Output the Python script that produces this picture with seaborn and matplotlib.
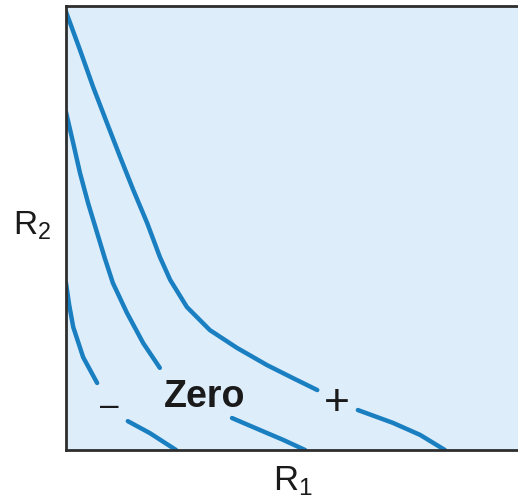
import matplotlib
matplotlib.use("Agg")
import matplotlib.pyplot as plt
import numpy as np
import pandas as pd
import seaborn as sns

# isocline curves, each split into two pieces around its label
minus_x1 = [0.0, 0.07, 0.16, 0.38, 0.69]
minus_y1 = [3.76, 3.27, 2.77, 2.09, 1.51]
minus_x2 = [1.37, 1.86, 2.44]
minus_y2 = [0.65, 0.38, 0.0]

zero_x1 = [0.0, 0.16, 0.31, 0.49, 0.69, 0.86, 1.04, 1.35, 1.71, 2.08]
zero_y1 = [7.61, 6.91, 6.24, 5.56, 4.89, 4.32, 3.76, 3.09, 2.41, 1.85]
zero_x2 = [3.68, 4.30, 4.81, 5.30]
zero_y2 = [0.72, 0.45, 0.23, 0.0]

plus_x1 = [0.0, 0.31, 0.60, 0.91, 1.20, 1.49, 1.80, 2.08, 2.31, 2.68,
           3.19, 3.79, 4.46, 5.03, 5.57]
plus_y1 = [9.87, 9.01, 8.18, 7.36, 6.60, 5.86, 5.11, 4.35, 3.83, 3.22,
           2.70, 2.30, 1.91, 1.62, 1.35]
plus_x2 = [6.47, 7.25, 7.85, 8.40]
plus_y2 = [0.90, 0.61, 0.34, 0.0]

labels = ["\u2013", "Zero", "+"]
label_x = [0.96, 3.08, 6.00]
label_y = [0.99, 1.19, 1.05]

segments = [
    ("minus_a", minus_x1, minus_y1),
    ("minus_b", minus_x2, minus_y2),
    ("zero_a", zero_x1, zero_y1),
    ("zero_b", zero_x2, zero_y2),
    ("plus_a", plus_x1, plus_y1),
    ("plus_b", plus_x2, plus_y2),
]
df = pd.concat(
    [pd.DataFrame({"seg": name, "x": xs, "y": ys}) for name, xs, ys in segments],
    ignore_index=True,
)

sns.set_theme(style="white")
plt.rcParams["font.family"] = ["Liberation Sans", "DejaVu Sans"]
plt.rcParams["mathtext.fontset"] = "custom"
plt.rcParams["mathtext.rm"] = "Liberation Sans"

fig = plt.figure(figsize=(5.18, 5.03), dpi=100)
ax = fig.add_axes([66 / 518, 53 / 503, 452 / 518, 444 / 503])
ax.set_facecolor("#deedfa")

line_color = "#1a7fc1"
sns.lineplot(
    data=df, x="x", y="y", units="seg", estimator=None, sort=False,
    color=line_color, linewidth=3.2, ax=ax, legend=False,
)
for line in ax.get_lines():
    line.set_solid_capstyle("round")
    line.set_solid_joinstyle("round")

ax.text(label_x[0], label_y[0], labels[0], fontsize=24, ha="center", va="center", color="#1a1a1a")
ax.text(label_x[1], label_y[1], labels[1], fontsize=27, fontweight="bold", ha="center", va="center", color="#1a1a1a")
ax.text(label_x[2], label_y[2], labels[2], fontsize=32, ha="center", va="center", color="#1a1a1a")

ax.set_xlim(0, 10.02)
ax.set_ylim(0, 10)
ax.set_xticks([])
ax.set_yticks([])

for side in ["left", "top", "bottom"]:
    ax.spines[side].set_color("#2e2e2e")
    ax.spines[side].set_linewidth(2)
ax.spines["right"].set_visible(False)

ax.set_xlabel(r"$\mathregular{R_1}$", fontsize=25, color="#1a1a1a", va="center", ha="center")
ax.xaxis.set_label_coords((293 - 66) / 452, -(481 - 450) / 444)
ax.set_ylabel(r"$\mathregular{R_2}$", fontsize=24, rotation=0, color="#1a1a1a", va="center", ha="center")
ax.yaxis.set_label_coords(-(66 - 32) / 452, (450 - 226) / 444)

fig.savefig("out.png", dpi=100)
